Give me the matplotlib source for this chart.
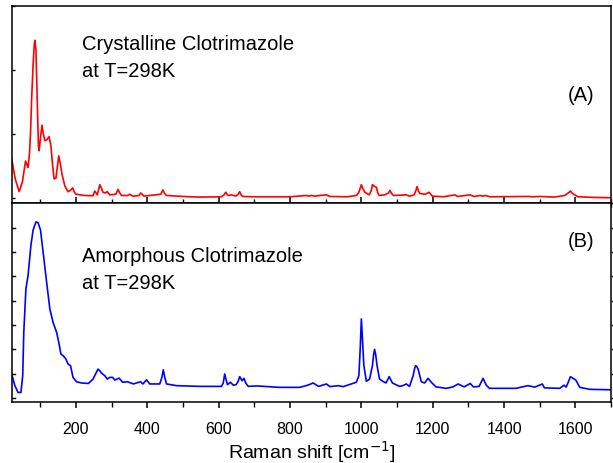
import matplotlib
matplotlib.use("Agg")
import matplotlib.pyplot as plt
from matplotlib.ticker import MultipleLocator, NullFormatter

plt.rcParams['font.family'] = ['Liberation Sans', 'DejaVu Sans']

# Crystalline clotrimazole (A) - traced points (Raman shift, intensity a.u.)
cryst_x = [20, 30, 41, 50, 59, 63, 66, 70, 73, 76, 80, 83, 85, 88, 92, 95, 97, 101, 105, 109,
           113, 118, 125, 130, 135, 139, 144, 148, 152, 157, 161, 169, 178, 185, 191, 196,
           200, 225, 248, 253, 260, 267, 271, 276, 282, 288, 295, 312, 318, 323, 328,
           345, 351, 356, 361, 377, 382, 387, 391, 438, 444, 449, 454, 500, 547, 608, 615,
           620, 625, 628, 636, 648, 655, 659, 663, 667, 700, 800, 846, 852, 860, 870, 883,
           902, 912, 960, 986, 993, 997, 1000, 1004, 1010, 1022, 1028, 1031, 1035, 1038,
           1042, 1046, 1050, 1065, 1076, 1080, 1085, 1090, 1126, 1135, 1148, 1153, 1156,
           1160, 1164, 1179, 1190, 1199, 1230, 1262, 1270, 1305, 1315, 1333, 1340, 1348,
           1360, 1467, 1481, 1500, 1540, 1570, 1582, 1586, 1590, 1595, 1607, 1650, 1700]
cryst_y = [0.62, 0.30, 0.10, 0.25, 0.58, 0.52, 0.48, 0.70, 1.03, 1.55, 2.07, 2.38, 2.47,
           2.33, 1.44, 0.82, 0.74, 0.95, 1.14, 1.00, 0.90, 0.91, 0.96, 0.82, 0.50, 0.30,
           0.31, 0.48, 0.66, 0.52, 0.375, 0.19, 0.10, 0.12, 0.16, 0.09, 0.06, 0.04, 0.036,
           0.11, 0.05, 0.21, 0.16, 0.09, 0.08, 0.10, 0.05, 0.06, 0.135, 0.08, 0.04, 0.04,
           0.06, 0.04, 0.03, 0.04, 0.08, 0.05, 0.03, 0.06, 0.125, 0.07, 0.04, 0.025, 0.015,
           0.02, 0.05, 0.09, 0.05, 0.04, 0.05, 0.03, 0.06, 0.10, 0.05, 0.025, 0.02, 0.02,
           0.04, 0.03, 0.04, 0.03, 0.04, 0.05, 0.025, 0.02, 0.04, 0.09, 0.16, 0.21, 0.15,
           0.09, 0.05, 0.12, 0.21, 0.19, 0.18, 0.17, 0.08, 0.04, 0.05, 0.08, 0.12, 0.07,
           0.04, 0.05, 0.03, 0.05, 0.12, 0.18, 0.11, 0.07, 0.06, 0.09, 0.03, 0.02, 0.05,
           0.025, 0.05, 0.025, 0.04, 0.03, 0.04, 0.02, 0.025, 0.02, 0.025, 0.015, 0.04,
           0.09, 0.11, 0.08, 0.06, 0.02, 0.01, 0.005]

# Amorphous clotrimazole (B) - traced points
amor_x = [20, 29, 38, 46, 51, 54, 60, 66, 74, 80, 88, 94, 101, 108, 118, 127, 136, 146,
          152, 158, 164, 171, 178, 185, 192, 202, 216, 235, 248, 256, 262, 267, 272, 281,
          288, 295, 303, 309, 321, 331, 345, 361, 381, 388, 398, 407, 435, 441, 445, 449,
          454, 482, 547, 608, 613, 617, 621, 625, 633, 641, 649, 655, 659, 666, 671, 676,
          683, 706, 771, 827, 850, 865, 880, 902, 912, 935, 949, 986, 993, 997, 1000, 1003,
          1007, 1014, 1023, 1031, 1034, 1037, 1040, 1044, 1051, 1060, 1069, 1078, 1087,
          1107, 1116, 1126, 1135, 1145, 1149, 1152, 1155, 1159, 1168, 1177, 1187, 1196,
          1209, 1238, 1257, 1271, 1288, 1305, 1314, 1330, 1341, 1350, 1359, 1434, 1448,
          1467, 1486, 1507, 1513, 1556, 1568, 1574, 1586, 1594, 1601, 1612, 1640, 1700]
amor_y = [0.99, 0.51, 0.23, 0.23, 0.92, 2.70, 4.49, 5.03, 6.27, 6.89, 7.23, 7.20, 6.89,
          6.00, 4.76, 3.66, 3.11, 2.70, 2.29, 1.81, 1.74, 1.63, 1.40, 1.33, 0.85, 0.67,
          0.62, 0.60, 0.78, 1.02, 1.19, 1.12, 1.02, 0.92, 0.78, 0.85, 0.85, 0.74, 0.82,
          0.65, 0.67, 0.58, 0.67, 0.58, 0.75, 0.58, 0.58, 0.85, 1.16, 0.85, 0.58, 0.51,
          0.48, 0.48, 0.62, 0.99, 0.75, 0.55, 0.65, 0.53, 0.55, 0.70, 0.88, 0.71, 0.81,
          0.62, 0.48, 0.50, 0.44, 0.44, 0.53, 0.62, 0.48, 0.58, 0.47, 0.51, 0.47, 0.65,
          0.92, 2.10, 3.25, 2.40, 1.33, 0.69, 0.78, 1.33, 1.75, 2.00, 1.80, 1.33, 0.78,
          0.69, 0.62, 0.88, 0.62, 0.48, 0.51, 0.58, 0.48, 0.92, 1.20, 1.33, 1.30, 1.19,
          0.67, 0.62, 0.81, 0.65, 0.46, 0.40, 0.46, 0.58, 0.46, 0.60, 0.46, 0.48, 0.81,
          0.53, 0.40, 0.40, 0.45, 0.51, 0.45, 0.58, 0.42, 0.40, 0.53, 0.45, 0.88, 0.80,
          0.74, 0.44, 0.36, 0.34]

labels_a = ["Crystalline Clotrimazole", "at T=298K", "(A)"]
labels_b = ["Amorphous Clotrimazole", "at T=298K", "(B)"]
xlabel = "Raman shift [cm$^{-1}$]"

fig = plt.figure(figsize=(6.13, 4.64), dpi=100)
L, R = 0.019, 0.997
axA = fig.add_axes([L, 0.560, R - L, 0.424])
axB = fig.add_axes([L, 0.1315, R - L, 0.4285], sharex=axA)

axA.plot(cryst_x, cryst_y, color='#ff0000', lw=1.2)
axB.plot(amor_x, amor_y, color='#0000ff', lw=1.2)

axA.set_xlim(20, 1700)
axA.set_ylim(-0.08, 3.0)
axB.set_ylim(-0.16, 8.0)

for ax in (axA, axB):
    for s in ax.spines.values():
        s.set_linewidth(1.1)
    ax.xaxis.set_major_locator(MultipleLocator(200))
    ax.xaxis.set_minor_locator(MultipleLocator(100))

axA.yaxis.set_major_locator(MultipleLocator(1))
axA.yaxis.set_major_formatter(NullFormatter())
axA.tick_params(axis='y', which='major', direction='in', length=2.5, width=1, left=True, right=False, labelleft=False)
axA.tick_params(axis='x', which='major', direction='inout', length=8, width=1.1, top=False, bottom=True, labelbottom=False)
axA.tick_params(axis='x', which='minor', direction='inout', length=6, width=1.0, top=False, bottom=True)

axB.yaxis.set_major_locator(MultipleLocator(1))
axB.yaxis.set_major_formatter(NullFormatter())
axB.tick_params(axis='y', which='major', direction='out', length=2.0, width=1, left=False, right=True, labelleft=False, labelright=False)
axB.tick_params(axis='x', which='major', direction='out', length=4.5, width=1.1, top=False, bottom=True, labelsize=11.5, pad=9)
axB.tick_params(axis='x', which='minor', direction='out', length=3.5, width=1.0, top=False, bottom=True)
# inward ticks on left of panel B
for yv in range(0, 8):
    axB.plot([0, 0.006], [yv, yv], transform=axB.get_yaxis_transform(), color='black', lw=1, clip_on=False)

fs = 14.5
axA.text(0.117, 0.814, labels_a[0], transform=axA.transAxes, fontsize=fs, va='center', ha='left')
axA.text(0.117, 0.672, labels_a[1], transform=axA.transAxes, fontsize=fs, va='center', ha='left')
axA.text(0.928, 0.55, labels_a[2], transform=axA.transAxes, fontsize=fs, va='center', ha='left')
axB.text(0.117, 0.739, labels_b[0], transform=axB.transAxes, fontsize=fs, va='center', ha='left')
axB.text(0.117, 0.603, labels_b[1], transform=axB.transAxes, fontsize=fs, va='center', ha='left')
axB.text(0.928, 0.814, labels_b[2], transform=axB.transAxes, fontsize=fs, va='center', ha='left')

axB.set_xlabel(xlabel, fontsize=14, labelpad=2)

fig.savefig("out.png", dpi=100)
